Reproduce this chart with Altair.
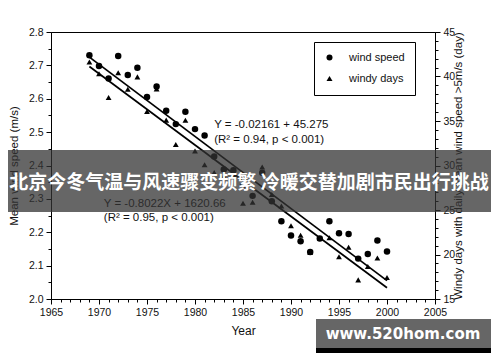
import altair as alt
import pandas as pd

# ---------------- data ----------------
years = list(range(1969, 2001))
wind_speed = [2.730, 2.698, 2.661, 2.728, 2.671, 2.693, 2.605, 2.637, 2.564, 2.524,
              2.561, 2.509, 2.490, 2.427, 2.388, 2.386, 2.340, 2.309, 2.378, 2.293,
              2.233, 2.190, 2.173, 2.141, 2.181, 2.233, 2.197, 2.195, 2.121, 2.135,
              2.175, 2.142]
windy_days = [41.64, 40.32, 37.65, 40.43, 38.56, 39.96, 36.06, 38.61, 35.10, 32.35,
              35.08, 31.62, 30.08, 29.20, 28.80, 29.00, 25.76, 25.87, 29.84, 26.74,
              25.44, 23.24, 22.17, 20.23, 21.83, 21.89, 19.75, 20.82, 17.15, 18.65,
              19.60, 17.41]
series_names = ["wind speed", "windy days"]

# printed regression equations (slope, intercept) and their year span
ws_slope, ws_intercept = -0.02161, 45.275
wd_slope, wd_intercept = -0.8022, 1620.66
line_years = [1969, 2000]

eq_ws = ["Y = -0.02161 + 45.275", "(R² = 0.94, p < 0.001)"]
eq_wd = ["Y = -0.8022X + 1620.66", "(R² = 0.95, p < 0.001)"]
banner_text = "北京今冬气温与风速骤变频繁 冷暖交替加剧市民出行挑战"
watermark_text = "www.520hom.com"

x_ticks = list(range(1965, 2006))
left_ticks = [round(2.0 + 0.05 * i, 2) for i in range(17)]
right_ticks = list(range(15, 46))

# ---------------- frames ----------------
df_ws = pd.DataFrame({"year": years, "value": wind_speed, "series": series_names[0]})
df_wd = pd.DataFrame({"year": years, "value": windy_days, "series": series_names[1]})
df_ws_line = pd.DataFrame({"year": line_years,
                           "value": [ws_intercept + ws_slope * y for y in line_years]})
df_wd_line = pd.DataFrame({"year": line_years,
                           "value": [wd_intercept + wd_slope * y for y in line_years]})
df_eq_ws = pd.DataFrame({"year": [1982.0, 1982.0], "value": [2.521, 2.475], "t": eq_ws})
df_eq_wd = pd.DataFrame({"year": [1970.5, 1970.5], "value": [2.284, 2.242], "t": eq_wd})
one = pd.DataFrame({"k": [0]})

W, H = 384, 267
FONT = "Liberation Sans"

x_axis = alt.Axis(
    values=x_ticks, grid=False, domainColor="black", tickColor="black", format="d",
    labelExpr="datum.value % 5 == 0 ? datum.label : ''",
    tickSize={"condition": {"test": "datum.value % 5 == 0", "value": 5}, "value": 3},
    labelFontSize=10.5, labelPadding=3, labelColor="#111", labelFont=FONT,
    titleFontSize=12, titleFont=FONT, titleFontWeight="normal", titlePadding=8,
    titleColor="#111", labelFlush=False,
)
x_enc = alt.X("year:Q", scale=alt.Scale(domain=[1965, 2005], nice=False, zero=False),
              axis=x_axis, title="Year")

left_axis = alt.Axis(
    values=left_ticks, grid=False, orient="left", domainColor="black", tickColor="black",
    labelExpr="round(datum.value*100) % 10 == 0 ? format(datum.value, '.1f') : ''",
    tickSize={"condition": {"test": "round(datum.value*100) % 10 == 0", "value": 5}, "value": 3},
    labelFontSize=10.5, labelPadding=3, labelColor="#111", labelFont=FONT,
    titleFontSize=11.5, titleFont=FONT, titleFontWeight="normal", titlePadding=9,
    titleColor="#111",
)
right_axis = alt.Axis(
    values=right_ticks, grid=False, orient="right", domainColor="black", tickColor="black",
    format="d", labelExpr="datum.value % 5 == 0 ? datum.label : ''",
    tickSize={"condition": {"test": "datum.value % 5 == 0", "value": 5}, "value": 3},
    labelFontSize=10.5, labelPadding=3, labelColor="#111", labelFont=FONT,
    titleFontSize=11.5, titleFont=FONT, titleFontWeight="normal", titlePadding=9,
    titleColor="#111", titleAngle=270,
)
y_left = alt.Y("value:Q", scale=alt.Scale(domain=[2.0, 2.8], nice=False, zero=False),
               axis=left_axis, title="Mean wind speed (m/s)")
y_right = alt.Y("value:Q", scale=alt.Scale(domain=[15, 45], nice=False, zero=False),
                axis=right_axis, title="Windy days with daily mean wind speed >5m/s (day)")

shape_enc = alt.Shape(
    "series:N",
    scale=alt.Scale(domain=series_names, range=["circle", "triangle-up"]),
    legend=alt.Legend(
        title=None, orient="none", legendX=263, legendY=10,
        strokeColor="black", fillColor="white", padding=10,
        labelFont=FONT, labelFontSize=11, labelColor="#111", labelOffset=14,
        symbolFillColor="black", symbolStrokeColor="black", symbolSize=36,
        rowPadding=8, cornerRadius=0,
    ),
)

circles = alt.Chart(df_ws).mark_point(filled=True, color="black", size=42, opacity=1).encode(
    x=x_enc, y=y_left, shape=shape_enc)
ws_line = alt.Chart(df_ws_line).mark_line(color="black", strokeWidth=1.7).encode(
    x=x_enc, y=y_left)
ws_text = alt.Chart(df_eq_ws).mark_text(align="left", baseline="middle", font=FONT,
                                        fontSize=11.5, color="#111").encode(
    x=x_enc, y=y_left, text="t:N")
wd_text = alt.Chart(df_eq_wd).mark_text(align="left", baseline="middle", font=FONT,
                                        fontSize=11.5, color="#111").encode(
    x=x_enc, y=y_left, text="t:N")
left = alt.layer(ws_line, circles, ws_text, wd_text)

triangles = alt.Chart(df_wd).mark_point(filled=True, color="black", size=34, opacity=1).encode(
    x=x_enc, y=y_right, shape=shape_enc)
wd_line = alt.Chart(df_wd_line).mark_line(color="black", strokeWidth=1.7).encode(
    x=x_enc, y=y_right)
right = alt.layer(wd_line, triangles)

banner = alt.Chart(one).mark_rect(color="#333333", opacity=0.75).encode(
    x=alt.value(-43), x2=alt.value(440), y=alt.value(118), y2=alt.value(180))
banner_t = alt.Chart(one).mark_text(font="Noto Sans CJK SC", fontWeight="bold",
                                    fontSize=19, color="white", align="center",
                                    baseline="middle").encode(
    x=alt.value(198), y=alt.value(151), text=alt.value(banner_text))
wm_box = alt.Chart(one).mark_rect(color="#666666").encode(
    x=alt.value(265), x2=alt.value(440), y=alt.value(287), y2=alt.value(317))
wm_strip = alt.Chart(one).mark_rect(color="black").encode(
    x=alt.value(265), x2=alt.value(440), y=alt.value(316), y2=alt.value(321))
wm_t = alt.Chart(one).mark_text(font="DejaVu Sans", fontWeight="bold", fontSize=15,
                                color="white", align="center", baseline="middle").encode(
    x=alt.value(352), y=alt.value(302), text=alt.value(watermark_text))
overlay = alt.layer(banner, banner_t, wm_box, wm_strip, wm_t)

chart = alt.layer(left, right, overlay).resolve_scale(y="independent").properties(
    width=W, height=H,
    autosize="none",
    padding={"left": 43, "top": 24, "right": 57, "bottom": 55},
    background="white",
).configure_view(stroke="black", strokeWidth=1)

chart.save("out.html", embed_options={"renderer": "svg", "actions": False})
